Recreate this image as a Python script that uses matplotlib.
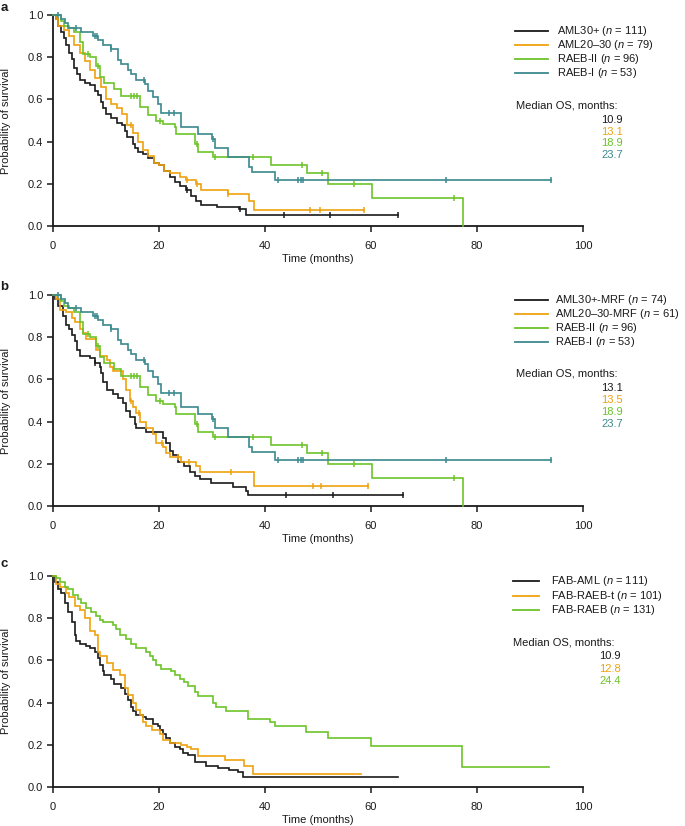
import numpy as np
import matplotlib
matplotlib.use("Agg")
import matplotlib.pyplot as plt
from matplotlib.lines import Line2D

plt.rcParams['font.family'] = ['Liberation Sans', 'DejaVu Sans']
plt.rcParams['mathtext.fontset'] = 'custom'
plt.rcParams['mathtext.rm'] = 'Liberation Sans'
plt.rcParams['mathtext.it'] = 'Liberation Sans:italic'

# ---------------- colours ----------------
C_BLACK = '#1a1a1a'
C_ORANGE = '#efa20f'
C_GREEN = '#6cc32a'
C_TEAL = '#3b898f'

# ---------------- data ----------------
# Panel a: AML30+ (n=111)
a_aml30_t = [0.5, 1, 1.5, 2, 2.5, 3, 3.5, 4, 4.5, 5, 6, 7, 8, 8.5, 9, 9.5, 10, 11, 12, 13, 13.5, 14, 15, 15.5,
             16, 17, 18, 19, 20, 21, 22, 23, 24, 25, 26, 27, 28, 31, 35, 36.5]
a_aml30_s = [0.98, 0.95, 0.92, 0.89, 0.86, 0.82, 0.79, 0.75, 0.72, 0.69, 0.68, 0.67, 0.64, 0.62, 0.59, 0.56,
             0.53, 0.51, 0.49, 0.48, 0.45, 0.42, 0.39, 0.37, 0.35, 0.34, 0.32, 0.30, 0.29, 0.26, 0.23, 0.21,
             0.19, 0.17, 0.14, 0.12, 0.10, 0.09, 0.08, 0.05]
a_aml30_end = 65
a_aml30_cens = [25.3, 35.3, 43.5, 52.3, 65]

# Panel a: AML20-30 (n=79)
a_aml20_t = [0.5, 1, 2, 3, 4, 5, 6, 7, 8, 9, 10, 11, 12, 13, 14, 15, 16, 17, 18, 19, 20, 21, 22, 24, 25, 27,
             28, 33, 37, 38]
a_aml20_s = [0.98, 0.95, 0.93, 0.90, 0.86, 0.82, 0.78, 0.74, 0.70, 0.66, 0.60, 0.58, 0.56, 0.53, 0.48, 0.44,
             0.40, 0.36, 0.33, 0.30, 0.29, 0.26, 0.25, 0.23, 0.22, 0.20, 0.17, 0.15, 0.12, 0.075]
a_aml20_end = 58.7
a_aml20_cens = [14.8, 25.3, 27.2, 33.0, 48.5, 50.4, 58.7]

# Panels a & b: RAEB-II (n=96)
raeb2_t = [1.5, 2, 3, 4, 5, 5.7, 6.9, 8.2, 8.8, 9.7, 11.6, 12.9, 16.4, 17.9, 19.5, 20.8, 23, 23.3, 26.7, 27.4,
           30.2, 41.2, 48.0, 51.9, 60.1, 77.3]
raeb2_s = [0.97, 0.95, 0.94, 0.92, 0.87, 0.815, 0.80, 0.76, 0.705, 0.68, 0.65, 0.615, 0.563, 0.524, 0.50,
           0.484, 0.468, 0.437, 0.39, 0.35, 0.326, 0.29, 0.25, 0.20, 0.134, 0.0]
raeb2_end = 77.3
raeb2_cens = [6.6, 8.5, 14.8, 15.3, 15.8, 20.2, 27.2, 30.6, 37.8, 46.9, 50.7, 56.8, 75.7]

# Panels a & b: RAEB-I (n=53)
raeb1_t = [1.6, 2.2, 2.8, 5.2, 7.5, 8.5, 9.4, 11, 12.3, 12.9, 14.2, 14.8, 15.7, 17.3, 17.9, 18.9, 19.8, 20.4,
           24.2, 27.4, 30, 30.5, 33, 36.9, 37.5, 41.8]
raeb1_s = [0.98, 0.96, 0.94, 0.92, 0.90, 0.88, 0.86, 0.84, 0.785, 0.77, 0.74, 0.72, 0.69, 0.674, 0.64, 0.61,
           0.58, 0.535, 0.468, 0.437, 0.413, 0.37, 0.326, 0.28, 0.255, 0.218]
raeb1_end = 94
raeb1_cens = [1.0, 4.4, 7.9, 8.3, 11.0, 17.2, 21.8, 22.8, 30.2, 42.5, 46.2, 46.8, 47.1, 74.2, 94.0]

# Panel b: AML30+-MRF (n=74)
b_aml30_t = [0.3, 0.9, 1.9, 2.5, 3.1, 3.5, 4.1, 4.5, 5.0, 6.9, 7.9, 8.8, 9.1, 9.4, 10.1, 11.3, 12.3, 13.2, 13.8,
             14.5, 15.4, 15.7, 17.6, 20.8, 21.4, 22, 22.7, 23.6, 24.8, 25.8, 26.7, 27.7, 29.9, 34, 36.5, 36.8]
b_aml30_s = [0.98, 0.95, 0.90, 0.86, 0.84, 0.81, 0.78, 0.74, 0.71, 0.70, 0.68, 0.66, 0.63, 0.59, 0.55, 0.53,
             0.51, 0.49, 0.45, 0.42, 0.39, 0.37, 0.35, 0.32, 0.30, 0.26, 0.24, 0.21, 0.19, 0.16, 0.14, 0.13,
             0.11, 0.09, 0.07, 0.054]
b_aml30_end = 66
b_aml30_cens = [7.9, 44.0, 52.9, 66.0]

# Panel b: AML20-30-MRF (n=61)
b_aml20_t = [0.6, 1.3, 2.5, 3.5, 4.1, 5.0, 5.7, 6.3, 8.2, 8.8, 10.1, 10.7, 11.3, 13.2, 13.8, 14.5, 15.1, 15.7,
             16.4, 17.6, 18.9, 19.5, 20.8, 21.4, 22, 24.2, 27, 27.7, 38]
b_aml20_s = [0.98, 0.93, 0.92, 0.89, 0.87, 0.84, 0.82, 0.79, 0.74, 0.71, 0.69, 0.66, 0.64, 0.60, 0.55, 0.50,
             0.47, 0.44, 0.40, 0.37, 0.34, 0.30, 0.28, 0.25, 0.23, 0.21, 0.19, 0.16, 0.095]
b_aml20_end = 59.4
b_aml20_cens = [14.8, 16.2, 20.6, 23.5, 25.6, 33.5, 49.0, 50.6, 59.4]

# Panel c: FAB-AML (n=111)
c_aml_t = [0.3, 0.9, 1.6, 2.2, 2.8, 3.5, 4.1, 4.4, 5.0, 6.3, 6.9, 7.9, 8.5, 8.8, 9.4, 9.7, 11, 11.6, 12.9, 13.5,
           14.2, 14.8, 15.1, 15.7, 17, 17.6, 18.9, 19.8, 20.1, 20.8, 21.4, 22, 23, 23.9, 24.5, 25.5, 26.7, 28.9,
           31.1, 33.3, 34.9, 35.8]
c_aml_s = [0.97, 0.94, 0.92, 0.87, 0.83, 0.78, 0.72, 0.69, 0.68, 0.67, 0.66, 0.64, 0.61, 0.58, 0.55, 0.53,
           0.51, 0.49, 0.47, 0.44, 0.41, 0.38, 0.36, 0.34, 0.33, 0.32, 0.30, 0.29, 0.27, 0.25, 0.23, 0.21,
           0.19, 0.18, 0.16, 0.15, 0.12, 0.10, 0.09, 0.08, 0.07, 0.047]
c_aml_end = 65

# Panel c: FAB-RAEB-t (n=101)
c_raebt_t = [0.6, 1.3, 2.5, 3.1, 4.1, 5, 6, 6.9, 7.9, 8.5, 8.8, 10.1, 11.3, 12.6, 13.5, 14.2, 15.1, 15.7, 16.4,
             17, 17.6, 18.6, 20.1, 20.8, 22, 24.2, 25.2, 26.1, 27.4, 32.4, 36.1, 37.7]
c_raebt_s = [0.96, 0.95, 0.92, 0.90, 0.86, 0.84, 0.80, 0.74, 0.72, 0.64, 0.62, 0.59, 0.555, 0.53, 0.467,
             0.435, 0.396, 0.364, 0.34, 0.31, 0.29, 0.27, 0.25, 0.222, 0.21, 0.20, 0.19, 0.18, 0.146, 0.13,
             0.10, 0.06]
c_raebt_end = 58.2

# Panel c: FAB-RAEB (n=131)
c_raeb_t = [0.6, 1.3, 2.2, 2.8, 3.8, 4.7, 5.3, 6.3, 7.2, 8.2, 8.8, 9.4, 11.3, 11.9, 12.6, 13.8, 14.8, 15.7,
            17.6, 18.3, 18.9, 19.5, 20.4, 22.3, 23, 23.9, 24.8, 25.5, 26.7, 27.4, 30.2, 30.8, 32.7, 36.8,
            40.9, 41.8, 47.8, 51.9, 60, 77.1]
c_raeb_s = [0.99, 0.97, 0.95, 0.94, 0.91, 0.89, 0.87, 0.85, 0.83, 0.81, 0.79, 0.78, 0.77, 0.75, 0.72, 0.70,
            0.68, 0.66, 0.64, 0.62, 0.60, 0.58, 0.56, 0.55, 0.53, 0.51, 0.50, 0.48, 0.45, 0.43, 0.40, 0.38,
            0.36, 0.324, 0.308, 0.288, 0.261, 0.233, 0.194, 0.096]
c_raeb_end = 93.5

# legend / median text
a_labels = [r'AML30+ ($n$ = 111)', r'AML20–30 ($n$ = 79)', r'RAEB-II ($n$ = 96)', r'RAEB-I ($n$ = 53)']
a_medians = ['10.9', '13.1', '18.9', '23.7']
b_labels = [r'AML30+-MRF ($n$ = 74)', r'AML20–30-MRF ($n$ = 61)', r'RAEB-II ($n$ = 96)', r'RAEB-I ($n$ = 53)']
b_medians = ['13.1', '13.5', '18.9', '23.7']
c_labels = [r'FAB-AML ($n$ = 111)', r'FAB-RAEB-t ($n$ = 101)', r'FAB-RAEB ($n$ = 131)']
c_medians = ['10.9', '12.8', '24.4']

x_ticks = [0, 20, 40, 60, 80, 100]
y_ticks = [0.0, 0.2, 0.4, 0.6, 0.8, 1.0]

# ---------------- figure ----------------
W, H = 685, 826
fig = plt.figure(figsize=(W / 100, H / 100), dpi=100)


def fx(px):
    return px / W


def fy(py):
    return 1 - py / H


def km(ax, t, s, end, color, cens=None):
    xs = [0] + list(t) + [end]
    ys = [1.0] + list(s) + [s[-1]]
    ax.plot(xs, ys, drawstyle='steps-post', color=color, lw=1.2, solid_joinstyle='miter', zorder=3)
    if cens:
        tt = np.array(t)
        ss = np.array(s)
        cy = []
        for c in cens:
            i = np.searchsorted(tt, c, side='right') - 1
            cy.append(1.0 if i < 0 else ss[i])
        ax.plot(cens, cy, ls='none', marker='|', ms=4, mew=1.1, color=color, zorder=4)


def setup(ax):
    ax.set_xlim(0, 100)
    ax.set_ylim(0, 1.0)
    ax.spines['top'].set_visible(False)
    ax.spines['right'].set_visible(False)
    for sp in ('left', 'bottom'):
        ax.spines[sp].set_linewidth(1.3)
        ax.spines[sp].set_color('#1a1a1a')
    ax.set_xticks(x_ticks)
    ax.set_xticklabels([str(v) for v in x_ticks])
    ax.set_yticks(y_ticks)
    ax.set_yticklabels([f'{v:.1f}' for v in y_ticks])
    ax.tick_params(axis='both', direction='out', length=4.5, width=1.1, labelsize=8, colors='#1a1a1a')
    ax.tick_params(axis='x', pad=6)
    ax.tick_params(axis='y', pad=2.5)


# axes rectangles in pixels: left 53, right 583; y top/bottom
panels = [(15, 226), (295, 506), (576, 787)]
axes = []
for top, bot in panels:
    ax = fig.add_axes([fx(53), fy(bot), fx(583) - fx(53), (bot - top) / H])
    setup(ax)
    axes.append(ax)

ax_a, ax_b, ax_c = axes

km(ax_a, a_aml30_t, a_aml30_s, a_aml30_end, C_BLACK, a_aml30_cens)
km(ax_a, a_aml20_t, a_aml20_s, a_aml20_end, C_ORANGE, a_aml20_cens)
km(ax_a, raeb2_t, raeb2_s, raeb2_end, C_GREEN, raeb2_cens)
km(ax_a, raeb1_t, raeb1_s, raeb1_end, C_TEAL, raeb1_cens)

km(ax_b, b_aml30_t, b_aml30_s, b_aml30_end, C_BLACK, b_aml30_cens)
km(ax_b, b_aml20_t, b_aml20_s, b_aml20_end, C_ORANGE, b_aml20_cens)
km(ax_b, raeb2_t, raeb2_s, raeb2_end, C_GREEN, raeb2_cens)
km(ax_b, raeb1_t, raeb1_s, raeb1_end, C_TEAL, raeb1_cens)

km(ax_c, c_aml_t, c_aml_s, c_aml_end, C_BLACK)
km(ax_c, c_raebt_t, c_raebt_s, c_raebt_end, C_ORANGE)
km(ax_c, c_raeb_t, c_raeb_s, c_raeb_end, C_GREEN)

for ax in axes:
    for ln in ax.lines:
        ln.set_clip_on(False)

FS = 8
# axis labels and panel letters
for (top, bot), letter, ly in zip(panels, ['a', 'b', 'c'], [8, 287.5, 564]):
    fig.text(fx(318), fy(bot + 33), 'Time (months)', ha='center', va='center', fontsize=FS, color='#1a1a1a')
    fig.text(fx(6), fy((top + bot) / 2), 'Probability of survival', rotation=90, ha='center', va='center',
             fontsize=FS, color='#1a1a1a')
    fig.text(fx(4), fy(ly), letter, ha='center', va='center', fontsize=9.5, fontweight='bold', color='#1a1a1a')


def legend(labels, colors, ys, x0, x1, xt, med_head_y, med_head_x, meds, med_ys, med_x):
    for lab, col, y in zip(labels, colors, ys):
        fig.add_artist(Line2D([fx(x0), fx(x1)], [fy(y), fy(y)], color=col, lw=1.3,
                              transform=fig.transFigure))
        fig.text(fx(xt), fy(y), lab, ha='left', va='center', fontsize=FS, color='#1a1a1a')
    fig.text(fx(med_head_x), fy(med_head_y), 'Median OS, months:', ha='left', va='center', fontsize=FS,
             color='#1a1a1a')
    for m, col, y in zip(meds, colors, med_ys):
        fig.text(fx(med_x), fy(y), m, ha='right', va='center', fontsize=FS, color=col)


cols4 = [C_BLACK, C_ORANGE, C_GREEN, C_TEAL]
legend(a_labels, cols4, [30.5, 44.5, 58.5, 72.5], 515, 548, 557, 106, 516.5, a_medians,
       [120, 131.7, 143.3, 155], 623)
legend(b_labels, cols4, [300, 314, 328, 342], 515, 548, 555, 373.3, 516.5, b_medians,
       [388, 400, 412, 424], 623)
legend(c_labels, cols4[:3], [581, 595.7, 610], 513, 539, 551, 642.3, 513, c_medians,
       [655.7, 669, 681.3], 621)

fig.savefig('out.png', dpi=100)
